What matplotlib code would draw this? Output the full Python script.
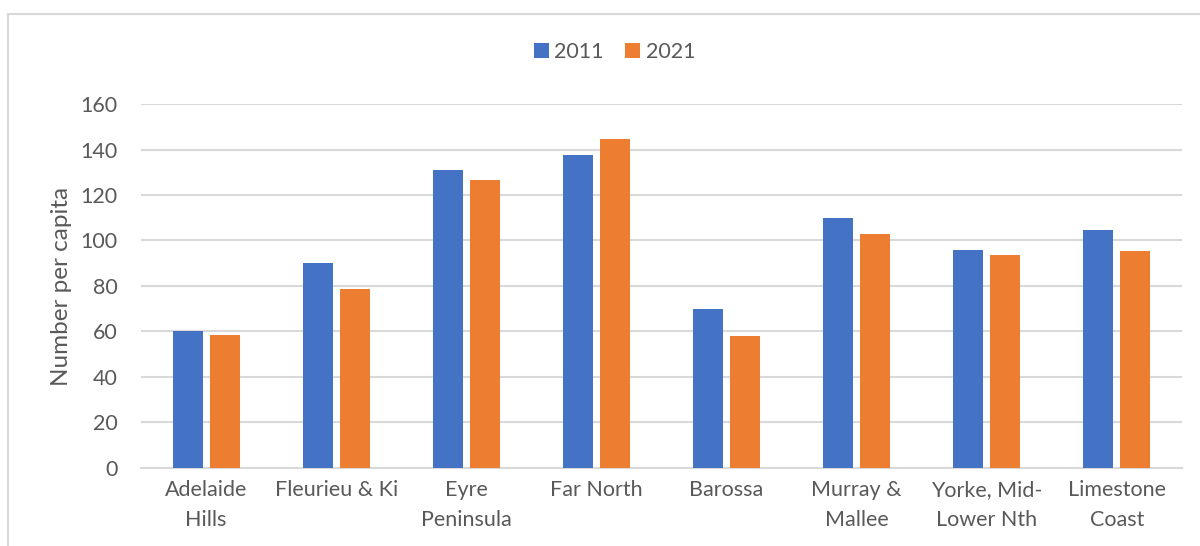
import matplotlib
matplotlib.use("Agg")
import matplotlib.pyplot as plt
from matplotlib.lines import Line2D
import numpy as np

# regions and per-capita counts
regions = ["Adelaide\nHills", "Fleurieu & Ki", "Eyre\nPeninsula", "Far North",
           "Barossa", "Murray &\nMallee", "Yorke, Mid-\nLower Nth", "Limestone\nCoast"]
vals_2011 = [60.4, 90.1, 131.1, 137.6, 69.8, 109.9, 95.7, 104.6]
vals_2021 = [58.3, 78.7, 126.6, 144.6, 58.0, 102.9, 93.5, 95.2]
series_names = ["2011", "2021"]

blue = "#4472C4"
orange = "#ED7D31"
grid_col = "#D9D9D9"
text_col = "#595959"

plt.rcParams["font.family"] = ["Lato", "DejaVu Sans"]

fig = plt.figure(figsize=(12, 5.46), dpi=100)
ax = fig.add_axes([0.1175, 0.1429, 0.8675, 0.6666])

x = np.arange(len(regions))
w = 0.23
off = 0.142
ax.bar(x - off, vals_2011, w, color=blue, label=series_names[0], zorder=3)
ax.bar(x + off, vals_2021, w, color=orange, label=series_names[1], zorder=3)

ax.set_xlim(-0.5, len(regions) - 0.5)
ax.set_ylim(0, 160)
ax.set_yticks(range(0, 161, 20))
ax.yaxis.grid(True, color=grid_col, linewidth=1.5, zorder=0)
ax.set_xticks(x)
ax.set_xticklabels(regions, fontsize=15.5, color=text_col, linespacing=1.6)
ax.tick_params(axis="y", labelsize=15.5, labelcolor=text_col, length=0, pad=17)
ax.tick_params(axis="x", length=0, pad=9)
for s in ["top", "right", "left"]:
    ax.spines[s].set_visible(False)
ax.spines["bottom"].set_color(grid_col)
ax.spines["bottom"].set_linewidth(1.5)

ax.set_ylabel("Number per capita", fontsize=17.5, color=text_col, labelpad=6)

fig.legend(loc="center", bbox_to_anchor=(0.512, 0.905), ncol=2, frameon=False,
           fontsize=15.5, labelcolor=text_col, handlelength=0.7, handleheight=0.7,
           handletextpad=0.25, columnspacing=1.0)

# chart frame
fig.add_artist(Line2D([8 / 1200, 1.0], [1 - 14 / 546] * 2, color=grid_col, linewidth=1.5))
fig.add_artist(Line2D([8 / 1200] * 2, [0.0, 1 - 14 / 546], color=grid_col, linewidth=1.5))

fig.savefig("out.png", dpi=100)
